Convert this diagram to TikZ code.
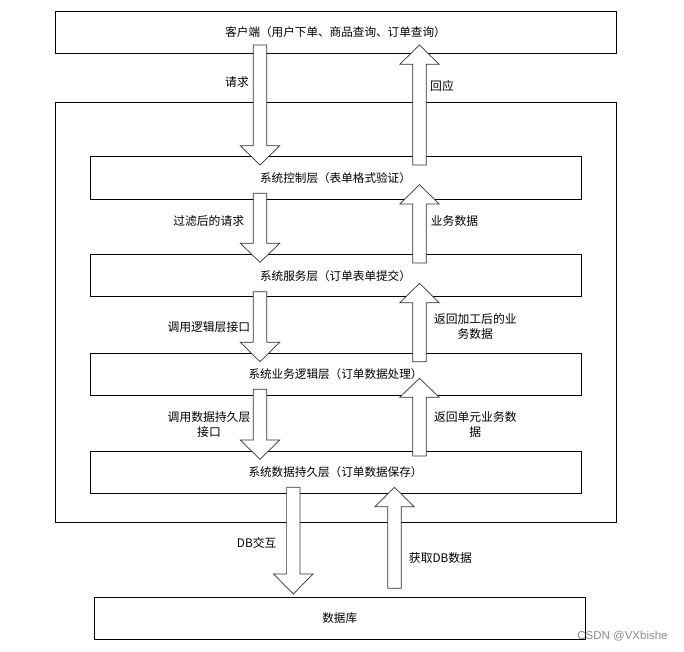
\documentclass[tikz,border=0pt]{standalone}
\usepackage{fontspec}
\setmainfont{Noto Sans CJK SC}
\newfontfamily\wmfont{Liberation Sans}
% block arrow: x, start (tail end), head base, tip  (works both up and down)
\newcommand\blkarr[4]{%
  \draw[blk] ({#1-6.7},#2) -- ({#1+6.7},#2) -- ({#1+6.7},#3) -- ({#1+19.7},#3) -- (#1,#4) -- ({#1-19.7},#3) -- ({#1-6.7},#3) -- cycle;}
\begin{document}
\begin{tikzpicture}[x=1pt,y=-1pt,
  box/.style={draw=black,line width=0.8pt,fill=white,inner sep=0pt,
    font=\fontsize{11.6}{14}\selectfont},
  blk/.style={draw=black!80,line width=0.7pt,fill=white,line join=miter},
  lbl/.style={font=\fontsize{11.8}{14.5}\selectfont,align=center,inner sep=0pt}]
\useasboundingbox (0,0) rectangle (684,651);
\fill[white] (0,0) rectangle (684,651);
% boxes
\node[box,minimum width=561,minimum height=42] (client) at (335.5,32) {客户端（用户下单、商品查询、订单查询）};
\node[box,minimum width=561,minimum height=420] (sys) at (335.5,312.3) {};
\node[box,minimum width=491,minimum height=42.3] (ctrl) at (335.5,177.8) {系统控制层（表单格式验证）};
\node[box,minimum width=491,minimum height=42] (svc) at (335.5,275.7) {系统服务层（订单表单提交）};
\node[box,minimum width=491,minimum height=41.7] (logic) at (335.5,374.2) {系统业务逻辑层（订单数据处理）};
\node[box,minimum width=491,minimum height=42] (pers) at (335.5,472) {系统数据持久层（订单数据保存）};
\node[box,minimum width=490.7,minimum height=41.6] (db) at (339.7,618.5) {数据库};
% arrows (down)
\blkarr{260}{45}{145.7}{165}
\blkarr{260}{193.3}{243.3}{262.3}
\blkarr{260}{291.7}{342.3}{361.7}
\blkarr{260}{389.3}{440}{459.3}
\blkarr{293.3}{487.3}{574}{594}
% arrows (up)
\blkarr{419.5}{165}{64.3}{45}
\blkarr{419.5}{263}{204}{184.7}
\blkarr{419.5}{361.7}{302.7}{283.3}
\blkarr{419.5}{456}{397.3}{378.3}
\blkarr{394.5}{588.3}{506.7}{487.3}
% labels
\node[lbl] (l1) at (237,82) {请求};
\node[lbl] (l2) at (442,86) {回应};
\node[lbl] (l3) at (208.7,220.7) {过滤后的请求};
\node[lbl] (l4) at (454.5,220.7) {业务数据};
\node[lbl] (l5) at (208.8,326.7) {调用逻辑层接口};
\node[lbl] (l6) at (475.3,326.7) {返回加工后的业\\务数据};
\node[lbl] (l7) at (209,424.5) {调用数据持久层\\接口};
\node[lbl] (l8) at (475.3,424.5) {返回单元业务数\\据};
\node[lbl] (l9) at (256.7,543.3) {DB交互};
\node[lbl] (l10) at (440.5,558.3) {获取DB数据};
\node[inner sep=0pt,text=black!45,font=\wmfont\fontsize{11.5}{13}\selectfont] (wm) at (622.5,636) {CSDN @VXbishe};
\end{tikzpicture}
\end{document}
